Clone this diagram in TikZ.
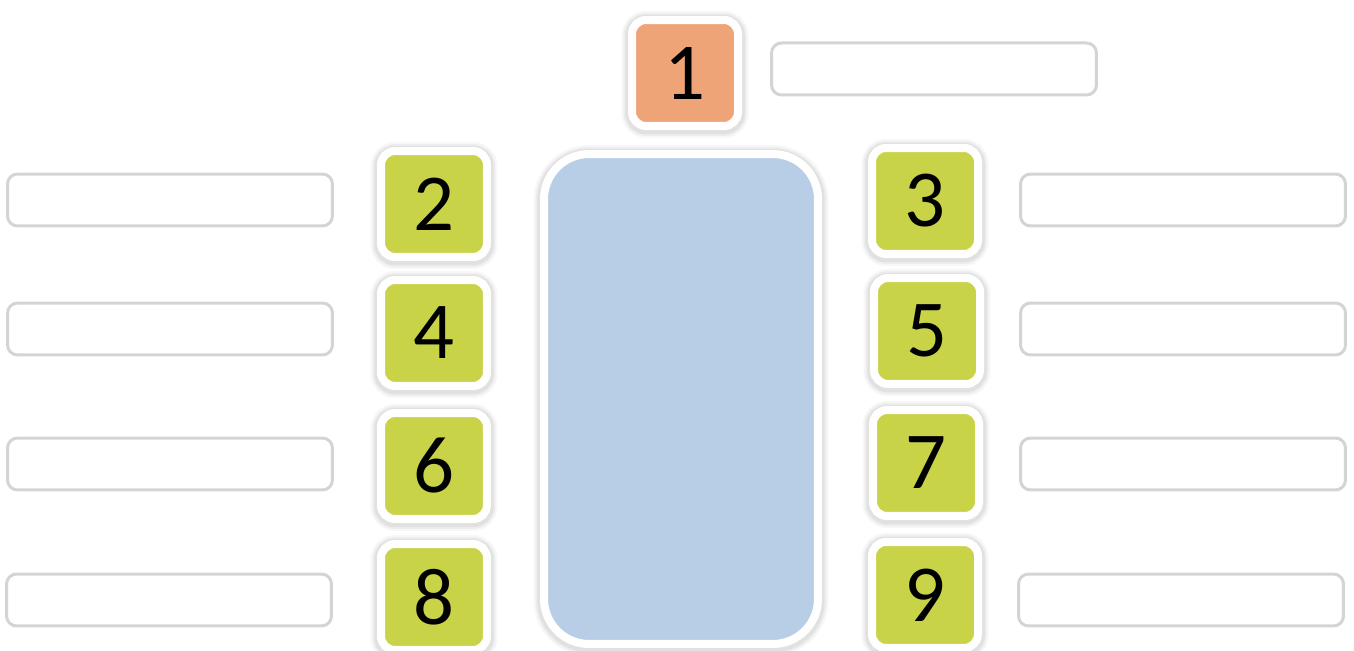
\documentclass[tikz,border=0pt]{standalone}
\usepackage{fontspec}
\setmainfont{Carlito}
\definecolor{numorange}{RGB}{238,164,118}
\definecolor{numgreen}{RGB}{200,211,72}
\definecolor{panelblue}{RGB}{184,205,230}
\definecolor{labelgray}{RGB}{212,212,212}
\tikzset{
  halo/.style={
    preaction={draw=black, opacity=0.03, line width=0.42cm, transform canvas={yshift=-0.03cm}},
    preaction={draw=black, opacity=0.04, line width=0.34cm, transform canvas={yshift=-0.03cm}},
    preaction={draw=black, opacity=0.05, line width=0.27cm, transform canvas={yshift=-0.03cm}}},
  numbox/.style={halo, draw=white, line width=0.16cm, rounded corners=0.28cm,
    minimum size=2.12cm, inner sep=0pt, font=\fontsize{46}{46}\selectfont},
  labelbox/.style={draw=labelgray, line width=0.06cm, rounded corners=0.2cm,
    minimum width=6.5cm, minimum height=1.04cm, inner sep=0pt, fill=white},
  panel/.style={halo, draw=white, fill=panelblue, line width=0.16cm, rounded corners=0.9cm,
    minimum width=5.48cm, minimum height=9.8cm, inner sep=0pt}
}
\begin{document}
\begin{tikzpicture}[x=0.02cm, y=-0.02cm]
\useasboundingbox (0,0) rectangle (1354,651);
% centre panel
\node[panel] (core) at (681,399) {};
% top
\node[numbox, fill=numorange] (n1) at (685,73) {1};
\node[labelbox] (t1) at (934,69) {};
% left hand
\node[numbox, fill=numgreen] (n2) at (434,204) {2};
\node[numbox, fill=numgreen] (n4) at (434,333) {4};
\node[numbox, fill=numgreen] (n6) at (434,466) {6};
\node[numbox, fill=numgreen] (n8) at (434,597) {8};
\node[labelbox] (t2) at (170,200) {};
\node[labelbox] (t4) at (170,329) {};
\node[labelbox] (t6) at (170,464) {};
\node[labelbox] (t8) at (169,600) {};
% right hand
\node[numbox, fill=numgreen] (n3) at (925,201) {3};
\node[numbox, fill=numgreen] (n5) at (927,331) {5};
\node[numbox, fill=numgreen] (n7) at (926,463) {7};
\node[numbox, fill=numgreen] (n9) at (925,595) {9};
\node[labelbox] (t3) at (1183,200) {};
\node[labelbox] (t5) at (1183,329) {};
\node[labelbox] (t7) at (1183,464) {};
\node[labelbox] (t9) at (1181,600) {};
\end{tikzpicture}
\end{document}
